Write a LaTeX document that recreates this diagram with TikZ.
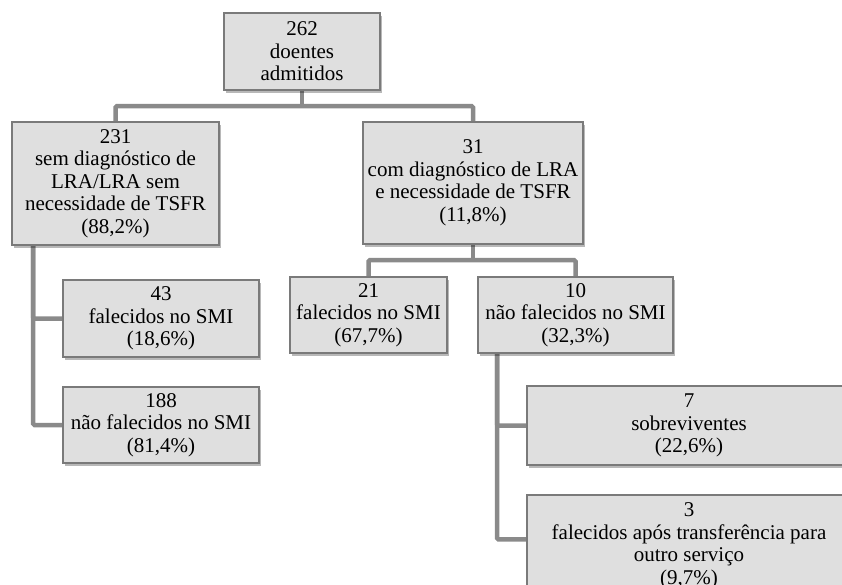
\documentclass[tikz,border=0pt]{standalone}
\usepackage{fontspec}
\setmainfont{Liberation Serif}
\usetikzlibrary{shadows,backgrounds,calc}
\definecolor{boxfill}{HTML}{DFDFDF}
\definecolor{boxline}{HTML}{7A7A7A}
\definecolor{connline}{HTML}{8A8A8A}
\tikzset{
  box/.style={draw=boxline, line width=1.1pt, fill=boxfill, inner sep=0pt,
    align=center, font={\fontsize{21}{22.5}\selectfont},
    drop shadow={shadow xshift=1.5pt, shadow yshift=-2.5pt, fill=black, opacity=0.28}},
  conn/.style={draw=connline, line width=4.5pt, rounded corners=1.5pt}
}
\begin{document}
\begin{tikzpicture}[x=1pt,y=-1pt]
\useasboundingbox (0,0) rectangle (842,584);
\clip (0,0) rectangle (842,584);
\node[box, minimum width=156pt, minimum height=77pt] (n262) at (302,51.5) {262\\doentes\\admitidos};
\node[box, minimum width=207pt, minimum height=123pt] (n231) at (115.5,183.5) {231\\sem diagnóstico de\\LRA/LRA sem\\necessidade de TSFR\\(88,2\%)};
\node[box, minimum width=220pt, minimum height=122pt] (n31) at (473,183) {31\\com diagnóstico de LRA\\e necessidade de TSFR\\(11,8\%)};
\node[box, minimum width=196pt, minimum height=77pt] (n43) at (161,318.5) {43\\falecidos no SMI\\(18,6\%)};
\node[box, minimum width=196pt, minimum height=76pt] (n188) at (161,425) {188\\não falecidos no SMI\\(81,4\%)};
\node[box, minimum width=157pt, minimum height=76pt] (n21) at (368.5,315) {21\\falecidos no SMI\\(67,7\%)};
\node[box, minimum width=195pt, minimum height=76pt] (n10) at (575.5,315) {10\\não falecidos no SMI\\(32,3\%)};
\node[box, minimum width=324pt, minimum height=79pt] (n7) at (689,425.5) {7\\sobreviventes\\(22,6\%)};
\node[box, minimum width=324pt, minimum height=102pt] (n3) at (689,546) {3\\falecidos após transferência para\\outro serviço\\(9,7\%)};
\coordinate (busA) at (302,106);
\coordinate (busB) at (473,260);
\coordinate (xL) at (33,0);
\coordinate (xR) at (497,0);
\coordinate (b3) at ($(n3.north west)+(0,45)$);
\begin{pgfonlayer}{background}
\draw[conn] (n262.south) -- (busA);
\draw[conn] (n231.north) |- (busA) -| (n31.north);
\draw[conn] (n31.south) -- (busB);
\draw[conn] (n21.north) |- (busB) -| (n10.north);
\draw[conn] (n231.south -| xL) |- (n43.west);
\draw[conn] (n231.south -| xL) |- (n188.west);
\draw[conn] (n10.south -| xR) |- (n7.west);
\draw[conn] (n10.south -| xR) |- (b3);
\end{pgfonlayer}
\end{tikzpicture}
\end{document}
